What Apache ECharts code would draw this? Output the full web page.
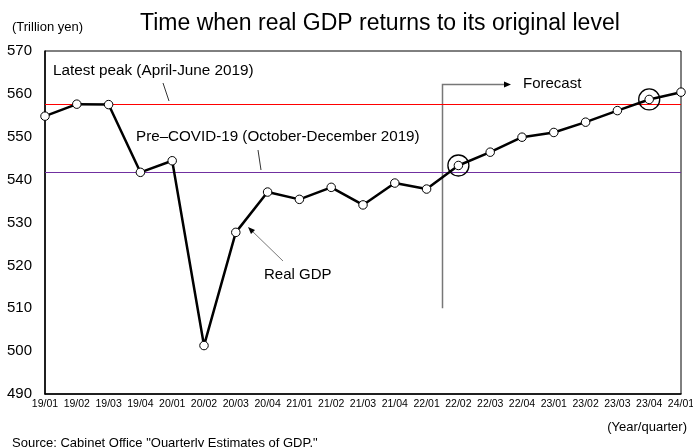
<!DOCTYPE html>
<html>
<head>
<meta charset="utf-8">
<script src="https://cdn.jsdelivr.net/npm/echarts@6/dist/echarts.min.js"></script>
<style>
html,body{margin:0;padding:0;background:#fff;}
#c{width:693px;height:447px;}
</style>
</head>
<body>
<div id="c"></div>
<script>
var quarters = ['19/01','19/02','19/03','19/04','20/01','20/02','20/03','20/04','21/01','21/02','21/03','21/04','22/01','22/02','22/03','22/04','23/01','23/02','23/03','23/04','24/01'];
var realGDP = [554.8,557.6,557.5,541.7,544.4,501.3,527.7,537.1,535.4,538.2,534.1,539.2,537.8,543.3,546.4,549.9,551.0,553.4,556.1,558.7,560.4];
var latestPeak = 557.6;
var preCovid = 541.7;
var recoveryIdx = [13, 19];
var yTicks = {min: 490, max: 570, interval: 10};

var FONT = 'Liberation Sans, Arial, sans-serif';
var chart = echarts.init(document.getElementById('c'), null, {renderer: 'canvas'});

var circleData = recoveryIdx.map(function (i) { return [quarters[i], realGDP[i]]; });

chart.setOption({
  animation: false,
  backgroundColor: '#fff',
  textStyle: {fontFamily: FONT, color: '#000'},
  title: {
    text: 'Time when real GDP returns to its original level',
    left: 140, top: 12, padding: 0,
    textStyle: {fontSize: 23, fontWeight: 'normal', color: '#000', fontFamily: FONT}
  },
  grid: {left: 45, right: 12, top: 51, bottom: 53, containLabel: false, outerBoundsMode: 'none',
         show: true, borderColor: '#000', borderWidth: 1, backgroundColor: 'transparent'},
  xAxis: {
    type: 'category', data: quarters, boundaryGap: false,
    axisLine: {lineStyle: {color: '#000', width: 1.5}},
    axisTick: {show: false},
    axisLabel: {interval: 0, fontSize: 10.5, color: '#000', margin: 5, fontFamily: FONT, hideOverlap: false},
    splitLine: {show: false}
  },
  yAxis: {
    type: 'value', min: yTicks.min, max: yTicks.max, interval: yTicks.interval,
    axisLine: {show: true, lineStyle: {color: '#000', width: 1.5}},
    axisTick: {show: false},
    axisLabel: {fontSize: 15, color: '#000', margin: 13, fontFamily: FONT},
    splitLine: {show: false}
  },
  series: [
    {
      type: 'line', data: realGDP, z: 5,
      lineStyle: {color: '#000', width: 2.5},
      symbol: 'circle', symbolSize: 8.5,
      itemStyle: {color: '#fff', borderColor: '#000', borderWidth: 1},
      markLine: {
        silent: true, symbol: 'none', label: {show: false},
        data: [
          {yAxis: latestPeak, lineStyle: {color: '#ff0000', width: 1.2, type: 'solid'}},
          {yAxis: preCovid, lineStyle: {color: '#7030a0', width: 1.2, type: 'solid'}}
        ]
      }
    },
    {
      type: 'scatter', data: circleData, symbol: 'circle', symbolSize: 21, z: 6,
      itemStyle: {color: 'rgba(0,0,0,0)', borderColor: '#000', borderWidth: 1.3, opacity: 1}
    }
  ]
});

function px(i, v) { return chart.convertToPixel({gridIndex: 0}, [i, v]); }
var pa = px(12, 560), pb = px(13, 560);
var fx = (pa[0] + pb[0]) / 2;
var fTop = px(12, 562.2)[1];
var fBot = px(12, 510)[1];

chart.setOption({
  graphic: [
    {type: 'text', left: 12, top: 21, style: {text: '(Trillion yen)', font: '13px ' + FONT, fill: '#000'}},
    {type: 'text', left: 53, top: 63, style: {text: 'Latest peak (April-June 2019)', font: '15.3px ' + FONT, fill: '#000'}},
    {type: 'line', shape: {x1: 163, y1: 83, x2: 169, y2: 101}, style: {stroke: '#000', lineWidth: 0.8}},
    {type: 'text', left: 136, top: 129, style: {text: 'Pre\u2013COVID-19 (October-December 2019)', font: '15.2px ' + FONT, fill: '#000'}},
    {type: 'line', shape: {x1: 258, y1: 150, x2: 261, y2: 170}, style: {stroke: '#000', lineWidth: 0.8}},
    {type: 'text', left: 264, top: 267, style: {text: 'Real GDP', font: '15px ' + FONT, fill: '#000'}},
    {type: 'line', shape: {x1: 283, y1: 261, x2: 250, y2: 229}, style: {stroke: '#555', lineWidth: 0.8}},
    {type: 'polygon', shape: {points: [[248, 227], [255, 230], [251, 234]]}, style: {fill: '#000'}},
    {type: 'polyline', shape: {points: [[fx, fBot], [fx, fTop], [505, fTop]]}, style: {stroke: '#777', lineWidth: 1.5, fill: null}},
    {type: 'polygon', shape: {points: [[511, fTop], [504, fTop - 3], [504, fTop + 3]]}, style: {fill: '#000'}},
    {type: 'text', left: 523, top: fTop - 8, style: {text: 'Forecast', font: '15px ' + FONT, fill: '#000'}},
    {type: 'text', right: 6, top: 421, style: {text: '(Year/quarter)', font: '13px ' + FONT, fill: '#000'}},
    {type: 'text', left: 12, top: 437, style: {text: 'Source: Cabinet Office "Quarterly Estimates of GDP."', font: '13px ' + FONT, fill: '#000'}}
  ]
});
</script>
</body>
</html>
